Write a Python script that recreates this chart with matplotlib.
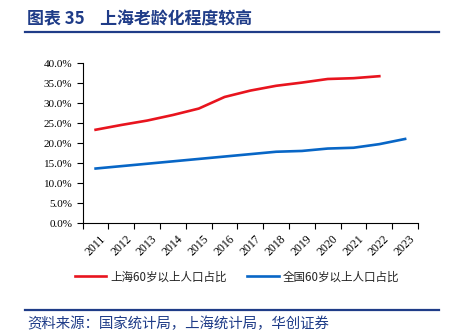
import numpy as np
import matplotlib
matplotlib.use("Agg")
import matplotlib.pyplot as plt
import matplotlib.transforms as mtransforms
from matplotlib.ticker import PercentFormatter

years = ["2011", "2012", "2013", "2014", "2015", "2016", "2017",
         "2018", "2019", "2020", "2021", "2022", "2023"]
shanghai = [23.4, 24.6, 25.7, 27.1, 28.7, 31.6, 33.2, 34.4, 35.2, 36.1, 36.3, 36.8]
national = [13.7, 14.3, 14.9, 15.5, 16.1, 16.7, 17.3, 17.9, 18.1, 18.7, 18.9, 19.8, 21.1]

title = "图表 35    上海老龄化程度较高"
source = "资料来源：国家统计局，上海统计局，华创证券"
labels = ["上海60岁以上人口占比", "全国60岁以上人口占比"]

navy = "#1F3C88"
red = "#E8141E"
blue = "#0866C6"
cjk = ["Noto Sans CJK SC", "DejaVu Sans"]
serif = ["Liberation Serif", "DejaVu Serif"]

fig = plt.figure(figsize=(4.54, 3.32), dpi=100)

fig.text(27 / 454, 1 - 19 / 332, title, fontsize=12.2, fontweight="bold",
         color=navy, family=cjk, va="center", ha="left")
fig.add_artist(plt.Line2D([25 / 454, 439 / 454], [1 - 32 / 332] * 2,
                          color=navy, lw=1.6))
fig.add_artist(plt.Line2D([25 / 454, 439 / 454], [1 - 310 / 332] * 2,
                          color=navy, lw=1.6))
fig.text(27 / 454, 1 - 324 / 332, source, fontsize=10.4, style="italic",
         color=navy, family=cjk, va="center", ha="left")

ax = fig.add_axes([82.7 / 454, 1 - 223.3 / 332, (418 - 82.7) / 454, (223.3 - 63.4) / 332])
x = np.arange(len(years))
ax.plot(x[:len(shanghai)], shanghai, color=red, lw=1.9, label=labels[0])
ax.plot(x, national, color=blue, lw=1.9, label=labels[1])

ax.set_xlim(-0.5, len(years) - 0.5)
ax.set_ylim(0, 40)
ax.set_yticks(np.arange(0, 41, 5))
ax.yaxis.set_major_formatter(PercentFormatter(decimals=1))
ax.set_xticks(np.arange(-0.5, len(years), 1))
ax.set_xticklabels([])
ax.set_xticks(x, minor=True)
ax.set_xticklabels(years, minor=True, rotation=45, ha="right", va="top",
                   rotation_mode="anchor")
ax.tick_params(axis="x", which="minor", length=0, pad=7)
ax.tick_params(axis="both", which="major", direction="out", length=4, width=0.8)
shift = mtransforms.ScaledTranslation(4 / 100, 0, fig.dpi_scale_trans)
for lab in ax.get_xticklabels(minor=True):
    lab.set_family(serif)
    lab.set_fontsize(8.5)
    lab.set_transform(lab.get_transform() + shift)
for lab in ax.get_yticklabels():
    lab.set_family(serif)
    lab.set_fontsize(8)
ax.spines["top"].set_visible(False)
ax.spines["right"].set_visible(False)
ax.spines["left"].set_linewidth(0.8)
ax.spines["bottom"].set_linewidth(0.8)

leg = fig.legend(loc="center", bbox_to_anchor=(237 / 454, 1 - 277 / 332), ncol=2,
                 frameon=False, prop={"family": cjk, "size": 8.3},
                 handlelength=2.7, columnspacing=1.8, handletextpad=0.35)
for t in leg.get_texts():
    t.set_color("#222222")

fig.savefig("out.png", dpi=100)
